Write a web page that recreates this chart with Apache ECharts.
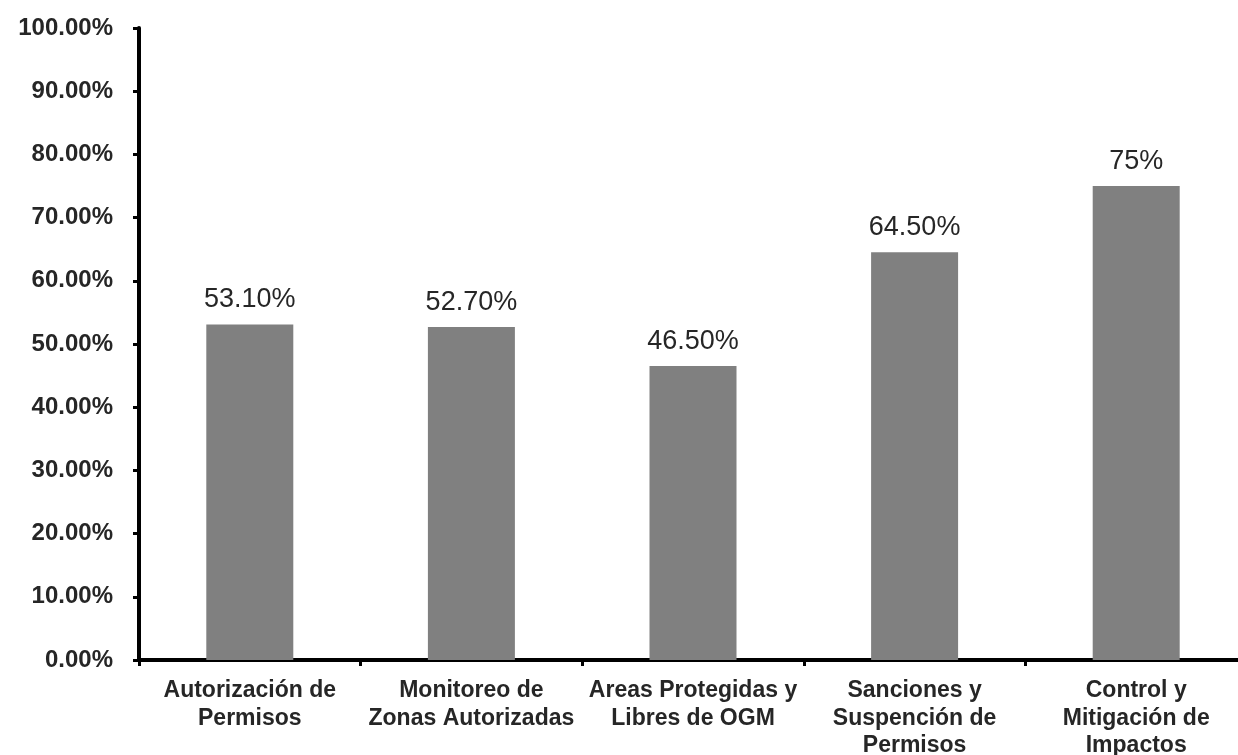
<!DOCTYPE html>
<html>
<head>
<meta charset="utf-8">
<script src="https://cdn.jsdelivr.net/npm/echarts@6/dist/echarts.min.js"></script>
<style>
html,body{margin:0;padding:0;background:#fff;overflow:hidden;}
#chart{width:1250px;height:755px;}
</style>
</head>
<body>
<div id="chart"></div>
<script>
const categories = [
  "Autorización de\nPermisos",
  "Monitoreo de\nZonas Autorizadas",
  "Areas Protegidas y\nLibres de OGM",
  "Sanciones y\nSuspención de\nPermisos",
  "Control y\nMitigación de\nImpactos"
];
const values = [53.1, 52.7, 46.5, 64.5, 75];
const valueLabels = ["53.10%", "52.70%", "46.50%", "64.50%", "75%"];

const chart = echarts.init(document.getElementById('chart'));
chart.setOption({
  animation: false,
  backgroundColor: '#ffffff',
  grid: { left: 139, top: 28, height: 632, width: 1108, containLabel: false, outerBoundsMode: 'none' },
  xAxis: {
    type: 'category',
    data: categories,
    axisLine: { lineStyle: { color: '#000', width: 4 } },
    axisTick: { show: true, length: 6, lineStyle: { color: '#000', width: 3 } },
    axisLabel: {
      interval: 0,
      margin: 17,
      color: '#262626',
      fontFamily: 'Liberation Sans, Arial, sans-serif',
      fontWeight: 'bold',
      fontSize: 23,
      lineHeight: 27.5
    }
  },
  yAxis: {
    type: 'value',
    min: 0, max: 100, interval: 10,
    splitLine: { show: false },
    axisLine: { show: true, lineStyle: { color: '#000', width: 4 } },
    axisTick: { show: true, length: 6, lineStyle: { color: '#000', width: 3 } },
    axisLabel: {
      margin: 26,
      color: '#262626',
      fontFamily: 'Liberation Sans, Arial, sans-serif',
      fontWeight: 'bold',
      fontSize: 24,
      formatter: v => v.toFixed(2) + '%'
    }
  },
  series: [{
    type: 'bar',
    data: values,
    barWidth: 87,
    itemStyle: { color: '#808080' },
    label: {
      show: true,
      position: 'top',
      distance: 11,
      color: '#262626',
      fontFamily: 'Liberation Sans, Arial, sans-serif',
      fontSize: 27,
      formatter: p => valueLabels[p.dataIndex]
    }
  }]
});
</script>
</body>
</html>
